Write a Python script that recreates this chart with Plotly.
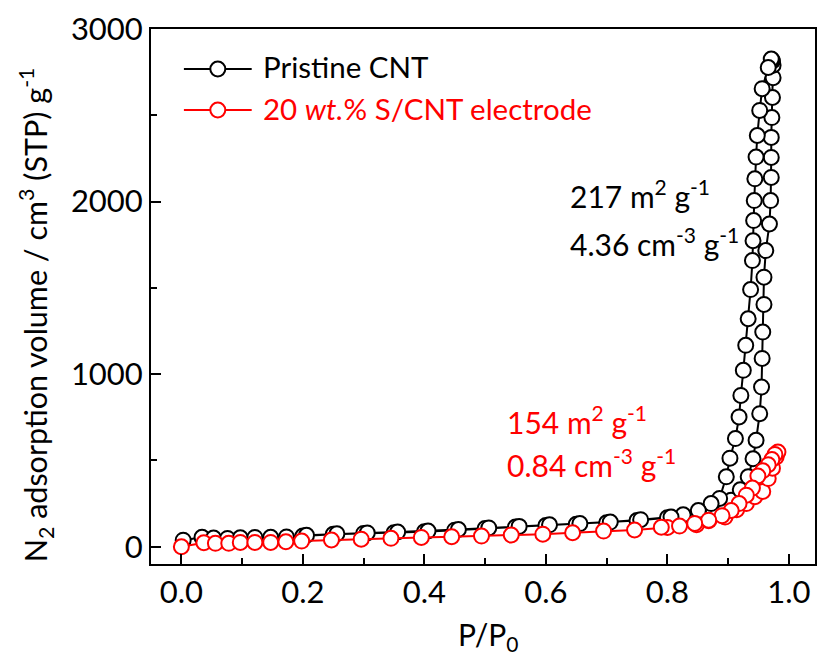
import plotly.graph_objects as go

# N2 isotherm of pristine CNT: adsorption branch (rising P) then desorption branch
cnt_ads_p = [0.003, 0.034, 0.053, 0.076, 0.097, 0.121, 0.147, 0.173, 0.200, 0.250,
             0.300, 0.350, 0.400, 0.450, 0.500, 0.550, 0.600, 0.650, 0.700, 0.750,
             0.800, 0.850, 0.875, 0.895, 0.905, 0.920, 0.933, 0.941, 0.946, 0.952,
             0.955, 0.956, 0.957, 0.959, 0.959, 0.962, 0.968, 0.970, 0.971, 0.971,
             0.971, 0.972, 0.973, 0.974, 0.974, 0.973, 0.972, 0.971]
cnt_ads_v = [38, 55, 50, 48, 52, 54, 55, 57, 62, 72,
             77, 81, 87, 96, 105, 114, 123, 130, 139, 152,
             168, 190, 215, 245, 270, 330, 405, 510, 617, 771,
             925, 1091, 1244, 1404, 1562, 1716, 1870, 2006, 2140, 2256,
             2372, 2487, 2603, 2718, 2790, 2815, 2822, 2826]
cnt_des_p = [0.966, 0.956, 0.952, 0.948, 0.946, 0.944, 0.943, 0.942, 0.941, 0.940,
             0.937, 0.933, 0.929, 0.925, 0.921, 0.918, 0.912, 0.903, 0.897, 0.886,
             0.872, 0.851, 0.826, 0.806, 0.756, 0.706, 0.656, 0.606, 0.556, 0.506,
             0.456, 0.406, 0.356, 0.306, 0.256, 0.206]
cnt_des_v = [2777, 2654, 2528, 2383, 2258, 2132, 2006, 1890, 1773, 1658,
             1490, 1321, 1167, 1022, 877, 752, 627, 513, 405, 280,
             250, 210, 185, 172, 157, 143, 134, 127, 118, 109,
             100, 91, 85, 80, 75, 66]

# 20 wt.% S/CNT electrode
scnt_ads_p = [0.000, 0.037, 0.056, 0.078, 0.097, 0.121, 0.147, 0.172, 0.198, 0.247,
              0.296, 0.345, 0.395, 0.445, 0.494, 0.543, 0.595, 0.644, 0.695, 0.746,
              0.800, 0.848, 0.868, 0.895, 0.914, 0.930, 0.944, 0.957, 0.966, 0.973,
              0.979, 0.982]
scnt_ads_v = [0, 23, 20, 20, 25, 25, 25, 29, 33, 39,
              44, 49, 54, 58, 62, 68, 73, 81, 91, 97,
              112, 128, 150, 172, 215, 250, 290, 320, 395, 455,
              520, 549]
scnt_des_p = [0.977, 0.972, 0.966, 0.957, 0.949, 0.940, 0.930, 0.918, 0.905, 0.890,
              0.868, 0.845, 0.820, 0.790]
scnt_des_v = [535, 505, 475, 440, 410, 340, 299, 250, 210, 180,
              154, 135, 120, 113]

labels = ["Pristine CNT", "20 <i>wt.</i>% S/CNT electrode"]
colors = ["#000000", "#ff0000"]
notes_cnt = ["217 m<sup>2</sup> g<sup>-1</sup>", "4.36 cm<sup>-3</sup> g<sup>-1</sup>"]
notes_scnt = ["154 m<sup>2</sup> g<sup>-1</sup>", "0.84 cm<sup>-3</sup> g<sup>-1</sup>"]

W, H = 821, 655
L, R, T, B = 151, 4, 29, 91
FONT = "Lato"
TEXT_SIZE = 29.5


def px_x(px):
    return (px - L) / (W - L - R)


def px_y(py):
    return (H - B - py) / (H - T - B)


fig = go.Figure()
series = [
    (cnt_ads_p + cnt_des_p, cnt_ads_v + cnt_des_v),
    (scnt_ads_p + scnt_des_p, scnt_ads_v + scnt_des_v),
]
for (p, v), name, c in zip(series, labels, colors):
    fig.add_trace(go.Scatter(
        x=p, y=v, mode="lines+markers", name=name, showlegend=False,
        line=dict(color=c, width=2),
        marker=dict(symbol="circle", size=15, color="white",
                    line=dict(color=c, width=2)),
    ))

# legend samples: line, open circle and label
legend_rows = [69, 110]
shapes = []
annotations = []
for row_y, name, c in zip(legend_rows, labels, colors):
    yy = px_y(row_y)
    shapes.append(dict(type="line", xref="paper", yref="paper",
                       x0=px_x(184), x1=px_x(252), y0=yy, y1=yy,
                       line=dict(color=c, width=2)))
    shapes.append(dict(type="circle", xref="paper", yref="paper",
                       xsizemode="pixel", ysizemode="pixel",
                       xanchor=px_x(218), yanchor=yy, x0=-7.5, x1=7.5, y0=-7.5, y1=7.5,
                       fillcolor="white", line=dict(color=c, width=2)))
    annotations.append(dict(text=name, xref="paper", yref="paper",
                            x=px_x(261), y=px_y(row_y - 2), xanchor="left", yanchor="middle",
                            showarrow=False, font=dict(family=FONT, size=TEXT_SIZE, color=c)))

for txt, py in zip(notes_cnt, [194, 242]):
    annotations.append(dict(text=txt, xref="paper", yref="paper",
                            x=px_x(569), y=px_y(py), xanchor="left", yanchor="middle",
                            showarrow=False, font=dict(family=FONT, size=30, color="black")))
for txt, py in zip(notes_scnt, [420, 463]):
    annotations.append(dict(text=txt, xref="paper", yref="paper",
                            x=px_x(506), y=px_y(py), xanchor="left", yanchor="middle",
                            showarrow=False, font=dict(family=FONT, size=30, color="red")))

# axis titles
annotations.append(dict(text="N<sub>2</sub> adsorption volume / cm<sup>3</sup> (STP) g<sup>-1</sup>",
                        xref="paper", yref="paper", x=px_x(35), y=px_y(315),
                        xanchor="center", yanchor="middle", textangle=-90, showarrow=False,
                        font=dict(family=FONT, size=30.5, color="black")))
annotations.append(dict(text="P/P<sub>0</sub>", xref="paper", yref="paper",
                        x=px_x(489), y=px_y(636), xanchor="center", yanchor="middle",
                        showarrow=False, font=dict(family=FONT, size=30, color="black")))

axis_common = dict(
    showline=True, linecolor="black", linewidth=2, mirror=True,
    ticks="inside", ticklen=10, tickwidth=1.5, tickcolor="black",
    showgrid=False, zeroline=False,
    tickfont=dict(family=FONT, size=31, color="black"),
)

fig.update_layout(
    width=W, height=H,
    margin=dict(l=L, r=R, t=T, b=B),
    paper_bgcolor="white", plot_bgcolor="white",
    showlegend=False,
    xaxis=dict(range=[-0.05, 1.043], tickmode="array",
               tickvals=[0, 0.2, 0.4, 0.6, 0.8, 1.0],
               ticktext=["0.0", "0.2", "0.4", "0.6", "0.8", "1.0"],
               minor=dict(tickvals=[0.1, 0.3, 0.5, 0.7, 0.9], ticks="inside",
                          ticklen=6, tickwidth=1.5, tickcolor="black"),
               **axis_common),
    yaxis=dict(range=[-100, 3000], tickmode="array",
               tickvals=[0, 1000, 2000, 3000],
               minor=dict(tickvals=[500, 1500, 2500], ticks="inside",
                          ticklen=6, tickwidth=1.5, tickcolor="black"),
               **axis_common),
    shapes=shapes,
    annotations=annotations,
)

fig.write_html("out.html")
